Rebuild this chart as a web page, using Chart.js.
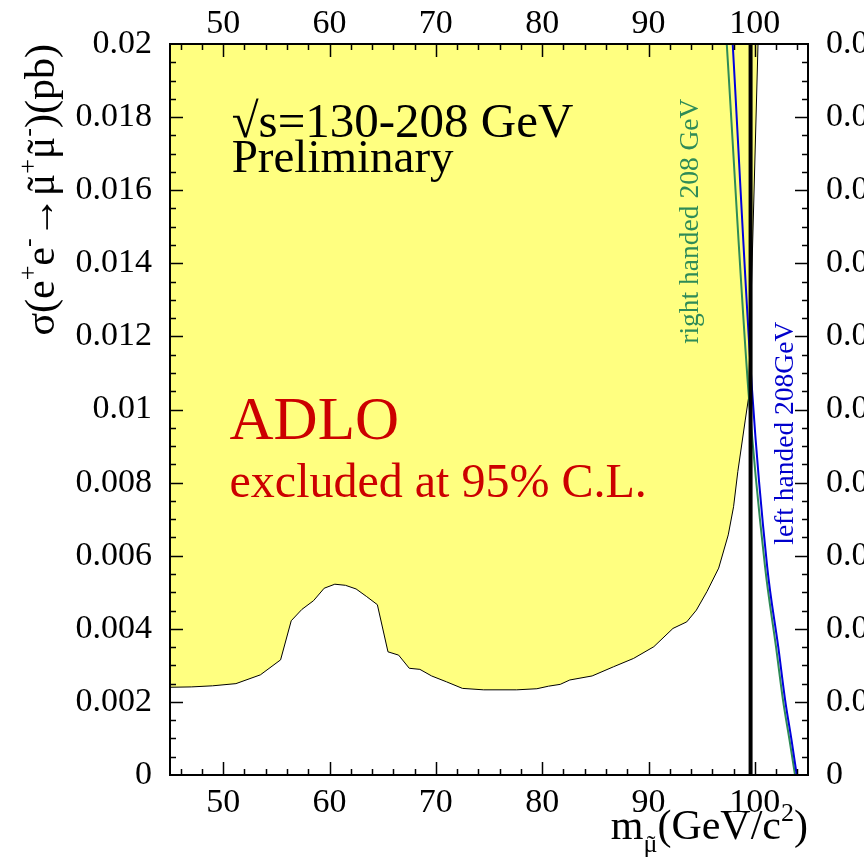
<!DOCTYPE html>
<html>
<head>
<meta charset="utf-8">
<script src="https://cdn.jsdelivr.net/npm/chart.js@4.4.0/dist/chart.umd.min.js"></script>
<style>
  html, body { margin: 0; padding: 0; background: #fff; overflow: hidden; }
  #wrap { position: absolute; left: 0; top: 0; width: 950px; height: 866px; }
</style>
</head>
<body>
<div id="wrap"><canvas id="limitChart" width="950" height="866"></canvas></div>
<script>
// excluded region boundary (smuon mass in GeV, cross section in pb)
var exclMass = [45, 47, 49, 51.2, 53.5, 55.4, 56.4, 57.4, 58.5, 59.5, 60.5, 61.5, 62.5, 63.5, 64.5,
  65.5, 66.5, 67.5, 68.5, 69.6, 71.0, 72.5, 74.5, 77.6, 79.5, 80.6, 81.7, 82.6, 84.7, 86.7, 88.6,
  90.5, 92.3, 93.6, 94.5, 95.5, 96.6, 97.5, 98.0, 98.4, 99.1, 99.4, 100.3];
var exclXsec = [0.0024, 0.00241, 0.00244, 0.0025, 0.00274, 0.00315, 0.00422, 0.00453, 0.00477, 0.00511, 0.00522, 0.00519, 0.00509, 0.00488, 0.00466,
  0.00337, 0.00328, 0.00292, 0.00289, 0.00271, 0.00255, 0.00237, 0.00233, 0.00233, 0.00236, 0.00243, 0.00248, 0.0026, 0.00271, 0.00296, 0.00319,
  0.00351, 0.00401, 0.00419, 0.00451, 0.00502, 0.00566, 0.00657, 0.00734, 0.0083, 0.00971, 0.0103, 0.02];

// predicted cross sections at 208 GeV
var rightMass = [97.36, 99.39, 100.96, 101.99, 102.65, 103.26, 103.78];
var rightXsec = [0.02, 0.01053, 0.0057, 0.00351, 0.00205, 0.00096, 0];
var leftMass = [97.92, 99.74, 101.16, 102.2, 102.85, 103.45, 103.94];
var leftXsec = [0.02, 0.01053, 0.0057, 0.00351, 0.00205, 0.00096, 0];

var massLimit = 99.6;

var xTicks = [50, 60, 70, 80, 90, 100];
var yTicks = [0, 0.002, 0.004, 0.006, 0.008, 0.01, 0.012, 0.014, 0.016, 0.018, 0.02];
var yTickLabels = ['0', '0.002', '0.004', '0.006', '0.008', '0.01', '0.012', '0.014', '0.016', '0.018', '0.02'];

var serif = '"Liberation Serif", "Times New Roman", serif';
Chart.defaults.font.family = serif;
Chart.defaults.color = '#000';

function points(xs, ys) {
  return xs.map(function(x, i) { return { x: x, y: ys[i] }; });
}

// parts: [text, 'sup' | 'sub' | '', withTilde]
function drawRich(ctx, parts, x, y, size, align) {
  var total = 0;
  parts.forEach(function(p) {
    ctx.font = (p[1] ? size * 0.62 : size) + 'px ' + serif;
    total += ctx.measureText(p[0]).width;
  });
  var cx = align === 'right' ? x - total : x;
  ctx.textBaseline = 'alphabetic';
  parts.forEach(function(p) {
    var fs = p[1] ? size * 0.62 : size;
    var dy = p[1] === 'sup' ? -size * 0.42 : (p[1] === 'sub' ? size * 0.3 : 0);
    ctx.font = fs + 'px ' + serif;
    ctx.textAlign = 'left';
    ctx.fillText(p[0], cx, y + dy);
    var w = ctx.measureText(p[0]).width;
    if (p[2]) {
      ctx.textAlign = 'center';
      ctx.fillText('\u02DC', cx + w * 0.55, y + dy + fs * 0.05);
    }
    cx += w;
  });
}

var decorations = {
  id: 'decorations',
  afterDatasetsDraw: function(chart) {
    var ctx = chart.ctx, a = chart.chartArea;
    var sx = chart.scales.x, sy = chart.scales.y;
    ctx.save();

    // inward ticks on all four sides
    ctx.strokeStyle = '#000';
    ctx.lineWidth = 1.5;
    ctx.beginPath();
    for (var m = 46; m <= 104; m += 2) {
      var px = Math.round(sx.getPixelForValue(m)) + 0.5;
      var len = m % 10 === 0 ? 13 : 6;
      ctx.moveTo(px, a.bottom); ctx.lineTo(px, a.bottom - len);
      ctx.moveTo(px, a.top); ctx.lineTo(px, a.top + len);
    }
    for (var k = 1; k < 40; k++) {
      var v = k * 0.0005;
      var py = Math.round(sy.getPixelForValue(v)) + 0.5;
      var l2 = k % 4 === 0 ? 13 : 6;
      ctx.moveTo(a.left, py); ctx.lineTo(a.left + l2, py);
      ctx.moveTo(a.right, py); ctx.lineTo(a.right - l2, py);
    }
    ctx.stroke();

    ctx.lineWidth = 2;
    ctx.strokeRect(a.left, a.top, a.right - a.left, a.bottom - a.top);

    // labels inside the plot
    ctx.fillStyle = '#000';
    ctx.textBaseline = 'alphabetic';
    ctx.textAlign = 'left';
    ctx.font = '49px ' + serif;
    ctx.fillText('\u221As=130-208 GeV', sx.getPixelForValue(50.8), sy.getPixelForValue(0.01746));
    ctx.font = '47px ' + serif;
    ctx.fillText('Preliminary', sx.getPixelForValue(50.8), sy.getPixelForValue(0.0165));

    ctx.fillStyle = '#cc0000';
    ctx.font = '61px ' + serif;
    ctx.fillText('ADLO', sx.getPixelForValue(50.6), sy.getPixelForValue(0.0092));
    ctx.font = '48px ' + serif;
    ctx.fillText('excluded at 95% C.L.', sx.getPixelForValue(50.6), sy.getPixelForValue(0.0076));

    ctx.font = '27.5px ' + serif;
    ctx.save();
    ctx.translate(sx.getPixelForValue(94.65), sy.getPixelForValue(0.0118));
    ctx.rotate(-Math.PI / 2);
    ctx.fillStyle = '#2e8b57';
    ctx.fillText('right handed 208 GeV', 0, 0);
    ctx.restore();

    ctx.save();
    ctx.translate(sx.getPixelForValue(103.6), sy.getPixelForValue(0.0063));
    ctx.rotate(-Math.PI / 2);
    ctx.fillStyle = '#0000cc';
    ctx.fillText('left handed 208GeV', 0, 0);
    ctx.restore();

    // axis titles
    ctx.fillStyle = '#000';
    ctx.save();
    ctx.translate(54, a.top);
    ctx.rotate(-Math.PI / 2);
    drawRich(ctx, [['\u03C3(e'], ['+', 'sup'], ['e'], ['-', 'sup'], ['\u2192'], ['\u03BC', '', true], ['+', 'sup'],
      ['\u03BC', '', true], ['-', 'sup'], [')(pb)']], 0, 0, 42, 'right');
    ctx.restore();

    drawRich(ctx, [['m'], ['\u03BC', 'sub', true], ['(GeV/c'], ['2', 'sup'], [')']],
      a.right, 839, 42, 'right');

    ctx.restore();
  }
};

function fixWidth(w) { return function(scale) { scale.width = w; }; }
function fixHeight(h) { return function(scale) { scale.height = h; }; }

var xAxis = {
  type: 'linear', min: 45, max: 105,
  grid: { display: false, drawTicks: false }, border: { display: false },
  afterBuildTicks: function(scale) { scale.ticks = xTicks.map(function(v) { return { value: v }; }); },
  ticks: { font: { size: 34 }, padding: 8, maxRotation: 0, callback: function(v) { return String(v); } }
};
var yAxis = {
  type: 'linear', min: 0, max: 0.02,
  grid: { display: false, drawTicks: false }, border: { display: false },
  afterBuildTicks: function(scale) { scale.ticks = yTicks.map(function(v) { return { value: v }; }); },
  ticks: { font: { size: 34 }, padding: 18, callback: function(v, i) { return yTickLabels[i]; } }
};

var limitChart = new Chart(document.getElementById('limitChart').getContext('2d'), {
  type: 'line',
  data: {
    datasets: [
      {
        label: 'mass limit',
        data: [{ x: massLimit, y: 0 }, { x: massLimit, y: 0.02 }],
        borderColor: '#000', borderWidth: 4, pointRadius: 0, fill: false, order: 1
      },
      {
        label: 'left handed 208GeV',
        data: points(leftMass, leftXsec),
        borderColor: '#0000dd', borderWidth: 2, pointRadius: 0, fill: false,
        cubicInterpolationMode: 'monotone', order: 2
      },
      {
        label: 'right handed 208 GeV',
        data: points(rightMass, rightXsec),
        borderColor: '#2e8b57', borderWidth: 2, pointRadius: 0, fill: false,
        cubicInterpolationMode: 'monotone', order: 3
      },
      {
        label: 'excluded at 95% C.L.',
        data: points(exclMass, exclXsec),
        borderColor: '#000', borderWidth: 1, pointRadius: 0,
        backgroundColor: '#ffff80', fill: 'end', tension: 0, order: 4
      }
    ]
  },
  options: {
    responsive: false,
    animation: false,
    devicePixelRatio: 1,
    layout: { padding: 0 },
    plugins: { legend: { display: false }, tooltip: { enabled: false } },
    scales: {
      x: Object.assign({}, xAxis, { position: 'bottom', afterFit: fixHeight(91) }),
      x2: Object.assign({}, xAxis, { position: 'top', afterFit: fixHeight(44),
        ticks: Object.assign({}, xAxis.ticks, { padding: 0 }) }),
      y: Object.assign({}, yAxis, { position: 'left', afterFit: fixWidth(170) }),
      y2: Object.assign({}, yAxis, { position: 'right', afterFit: fixWidth(142) })
    }
  },
  plugins: [decorations]
});
</script>
</body>
</html>
